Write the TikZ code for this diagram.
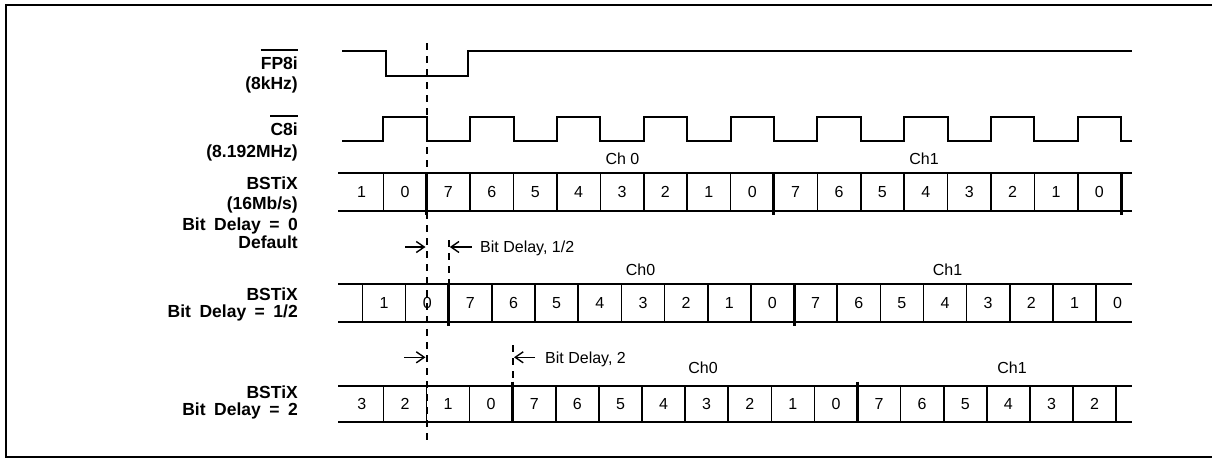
\documentclass[tikz,border=0pt]{standalone}
\usepackage{fontspec}
\setmainfont{Liberation Sans}
\usetikzlibrary{arrows.meta}
\newcommand\wsp{\hspace{8.5pt}}
\begin{document}
\begin{tikzpicture}[x=1pt,y=-1pt,
  wave/.style={line width=2pt, line join=miter},
  rowline/.style={line width=2pt},
  cellsep/.style={line width=1.6pt},
  chsep/.style={line width=3pt},
  guide/.style={line width=2pt, dash pattern=on 7pt off 6pt},
  lab/.style={font=\fontsize{17.5}{20}\selectfont\bfseries, anchor=base east, inner sep=0pt},
  txt/.style={font=\fontsize{16}{19}\selectfont, inner sep=0pt},
  arr/.style={line width=1.4pt, -{Straight Barb[length=8pt,width=11pt]}}
]
\useasboundingbox (0,0) rectangle (1212,458);
\draw[line width=2pt] (1214,5) -- (6,5) -- (6,456.5) -- (1214,456.5);

% left labels
\node[lab] (fp) at (298,69) {FP8i};
\node[lab] (fpk) at (298,89) {(8kHz)};
\coordinate (olfp) at (0,50);
\draw[line width=1.8pt] (fp.west |- olfp) -- (fp.east |- olfp);
\node[lab] (c8) at (298,135.5) {C8i};
\node[lab] (c8m) at (298,157) {(8.192MHz)};
\coordinate (olc8) at (0,116);
\draw[line width=1.8pt] (c8.west |- olc8) -- (c8.east |- olc8);
\node[lab] (l1a) at (298,189) {BSTiX};
\node[lab] (l1b) at (298,209.5) {(16Mb/s)};
\node[lab] (l1c) at (298,230) {Bit\wsp Delay\wsp =\wsp 0};
\node[lab] (l1d) at (298,248) {Default};
\node[lab] (l2a) at (298,300.5) {BSTiX};
\node[lab] (l2b) at (298,317.5) {Bit\wsp Delay\wsp =\wsp 1/2};
\node[lab] (l3a) at (298,398.5) {BSTiX};
\node[lab] (l3b) at (298,415.5) {Bit\wsp Delay\wsp =\wsp 2};

% FP8i waveform
\draw[wave] (342,51) -- (385.7,51) -- (385.7,76) -- (467.7,76) -- (467.7,51) -- (1132,51);
% C8i clock
\draw[wave] (342,141) \foreach \i in {0,...,8} { -- ({383.3+86.8*\i},141) -- ({383.3+86.8*\i},116.7) -- ({426.7+86.8*\i},116.7) -- ({426.7+86.8*\i},141) } -- (1132,141);

% Row 1
\draw[rowline] (338,173) -- (1132,173);
\draw[rowline] (338,211) -- (1132,211);
\foreach \k in {-1,1,2,3,4,5,6,7,9,10,11,12,13,14,15}
  \draw[cellsep] ({426.7+43.4*\k},173) -- ({426.7+43.4*\k},211);
\foreach \k in {0,8,16}
  \draw[chsep] ({426.7+43.4*\k},173) -- ({426.7+43.4*\k},215);
\foreach \d [count=\n from 1] in {1,0,7,6,5,4,3,2,1,0,7,6,5,4,3,2,1,0}
  \node[txt] (ra\n) at ({426.7+43.4*(\n-2.5)},192) {\d};
\node[txt, anchor=base] (ch10) at (622.5,164.7) {Ch 0};
\node[txt, anchor=base] (ch11) at (924,164.7) {Ch1};

% Row 2
\draw[rowline] (338,284.3) -- (1132,284.3);
\draw[rowline] (338,321.7) -- (1132,321.7);
\foreach \k in {-2,-1,1,2,3,4,5,6,7,9,10,11,12,13,14,15}
  \draw[cellsep] ({448.8+43.15*\k},284.3) -- ({448.8+43.15*\k},321.7);
\foreach \k in {0,8}
  \draw[chsep] ({448.8+43.15*\k},284.3) -- ({448.8+43.15*\k},325.5);
\foreach \d [count=\n from 1] in {1,0,7,6,5,4,3,2,1,0,7,6,5,4,3,2,1,0}
  \node[txt] (rb\n) at ({448.8+43.15*(\n-2.5)},303) {\d};
\node[txt, anchor=base] (ch20) at (640.5,275.7) {Ch0};
\node[txt, anchor=base] (ch21) at (947.5,275.7) {Ch1};

% Row 3
\draw[rowline] (338,385.7) -- (1132,385.7);
\draw[rowline] (338,422.3) -- (1132,422.3);
\foreach \k in {-3,-2,-1,1,2,3,4,5,6,7,9,10,11,12,13,14}
  \draw[cellsep] ({512.7+43.1*\k},385.7) -- ({512.7+43.1*\k},422.3);
\foreach \k in {0,8}
  \draw[chsep] ({512.7+43.1*\k},381.5) -- ({512.7+43.1*\k},422.3);
\foreach \d [count=\n from 1] in {3,2,1,0,7,6,5,4,3,2,1,0,7,6,5,4,3,2}
  \node[txt] (rc\n) at ({512.7+43.1*(\n-4.5)},404) {\d};
\node[txt, anchor=base] (ch30) at (703,373.7) {Ch0};
\node[txt, anchor=base] (ch31) at (1012,373.7) {Ch1};

% dashed guides
\draw[guide] (426.7,43) -- (426.7,445);
\draw[guide] (448.5,240) -- (448.5,284.3);
\draw[guide] (512.7,345) -- (512.7,385.7);

% delay arrows
\coordinate (a1l) at (405,247);
\coordinate (a1r) at (425.5,247);
\coordinate (a2l) at (471.7,247);
\coordinate (a2r) at (449.8,247);
\draw[arr] (a1l) -- (a1r);
\draw[arr] (a2l) -- (a2r);
\node[txt, anchor=base west] (bd1) at (480,252.7) {Bit Delay, 1/2};
\coordinate (b1l) at (404,357.3);
\coordinate (b1r) at (425.5,357.3);
\coordinate (b2l) at (535,357.3);
\coordinate (b2r) at (514,357.3);
\draw[arr] (b1l) -- (b1r);
\draw[arr] (b2l) -- (b2r);
\node[txt, anchor=base west] (bd2) at (545,363) {Bit Delay, 2};
\end{tikzpicture}
\end{document}
